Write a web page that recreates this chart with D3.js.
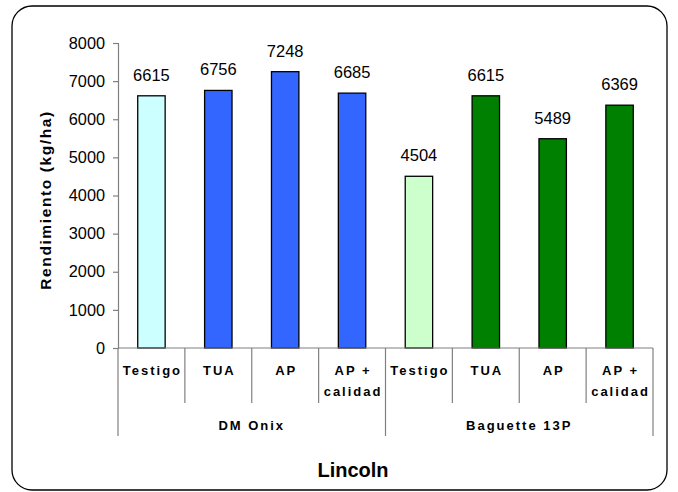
<!DOCTYPE html>
<html>
<head>
<meta charset="utf-8">
<script src="https://cdn.jsdelivr.net/npm/d3@7/dist/d3.min.js"></script>
<style>
  html, body { margin: 0; padding: 0; background: #fff; }
  svg { display: block; }
  text { font-family: Arial, "Liberation Sans", sans-serif; }
</style>
</head>
<body>
<svg id="chart" width="678" height="492"></svg>
<script>
// ---- data ----
const groups = ["DM Onix", "Baguette 13P"];
const treatments = ["Testigo", "TUA", "AP", "AP + calidad"];
const valuesDMOnix = [6615, 6756, 7248, 6685];
const valuesBaguette = [4504, 6615, 5489, 6369];
const yTicks = [0, 1000, 2000, 3000, 4000, 5000, 6000, 7000, 8000];
const colorsDMOnix = ["#CCFFFF", "#3366FF", "#3366FF", "#3366FF"];
const colorsBaguette = ["#CCFFCC", "#008000", "#008000", "#008000"];
const yTitle = "Rendimiento (kg/ha)";
const xTitle = "Lincoln";

(function () {
// build table
const rows = [];
[valuesDMOnix, valuesBaguette].forEach((vals, gi) => {
  vals.forEach((v, ti) => {
    rows.push({
      key: groups[gi] + "|" + treatments[ti],
      group: groups[gi],
      treatment: treatments[ti],
      value: v,
      color: (gi === 0 ? colorsDMOnix : colorsBaguette)[ti]
    });
  });
});

const svg = d3.select("#chart");

// frame
svg.append("rect")
  .attr("x", 12).attr("y", 6)
  .attr("width", 655).attr("height", 484)
  .attr("rx", 20).attr("ry", 20)
  .attr("fill", "#fff").attr("stroke", "#000").attr("stroke-width", 1.3);

const pLeft = 118, pRight = 653, pTop = 43, pBottom = 348;

const x = d3.scaleBand().domain(rows.map(d => d.key)).range([pLeft, pRight]).padding(0);
const y = d3.scaleLinear().domain([0, 8000]).range([pBottom, pTop]);

const axisColor = "#808080";

// y axis
const yAxis = d3.axisLeft(y).tickValues(yTicks).tickSize(5).tickPadding(8).tickFormat(d3.format("d"));
const gy = svg.append("g").attr("transform", `translate(${pLeft},0)`).call(yAxis);
gy.select(".domain").attr("stroke", axisColor).attr("stroke-width", 1.2);
gy.selectAll(".tick line").attr("stroke", axisColor).attr("stroke-width", 1.2);
gy.selectAll(".tick text")
  .attr("fill", "#000")
  .style("font-size", "16.3px")
  .style("font-family", "Arial, 'Liberation Sans', sans-serif");

// bars
const barW = x.bandwidth() * 0.41;
svg.append("g").selectAll("rect").data(rows).join("rect")
  .attr("x", d => x(d.key) + (x.bandwidth() - barW) / 2)
  .attr("y", d => y(d.value))
  .attr("width", barW)
  .attr("height", d => y(0) - y(d.value))
  .attr("fill", d => d.color)
  .attr("stroke", "#000")
  .attr("stroke-width", 1.3);

// value labels
svg.append("g").selectAll("text").data(rows).join("text")
  .attr("x", d => x(d.key) + x.bandwidth() / 2)
  .attr("y", d => y(d.value) - 15)
  .attr("text-anchor", "middle")
  .style("font-size", "16.5px")
  .attr("fill", "#000")
  .text(d => d.value);

// x baseline
svg.append("line")
  .attr("x1", pLeft).attr("x2", pRight)
  .attr("y1", y(0)).attr("y2", y(0))
  .attr("stroke", axisColor).attr("stroke-width", 1.2);

// category dividers
const nCat = rows.length;
for (let i = 0; i <= nCat; i++) {
  const xx = i < nCat ? x(rows[i].key) : pRight;
  const isGroupEdge = (i % treatments.length === 0);
  svg.append("line")
    .attr("x1", xx).attr("x2", xx)
    .attr("y1", y(0)).attr("y2", isGroupEdge ? 436 : 403)
    .attr("stroke", axisColor).attr("stroke-width", 1.2);
}

// category labels
const catG = svg.append("g");
rows.forEach(d => {
  const cx = x(d.key) + x.bandwidth() / 2;
  const parts = d.treatment === "AP + calidad" ? ["AP +", "calidad"] : [d.treatment];
  parts.forEach((p, i) => {
    catG.append("text")
      .attr("x", cx + 1)
      .attr("y", 375 + i * 21)
      .attr("text-anchor", "middle")
      .style("font-size", "13px")
      .style("font-weight", "bold")
      .style("letter-spacing", "2px")
      .attr("fill", "#000")
      .text(p);
  });
});

// group labels
groups.forEach((g, gi) => {
  const first = rows[gi * treatments.length];
  const last = rows[gi * treatments.length + treatments.length - 1];
  const cx = (x(first.key) + x(last.key) + x.bandwidth()) / 2;
  svg.append("text")
    .attr("x", cx)
    .attr("y", 430)
    .attr("text-anchor", "middle")
    .style("font-size", "13px")
    .style("font-weight", "bold")
    .style("letter-spacing", "2px")
    .attr("fill", "#000")
    .text(g);
});

// axis titles
svg.append("text")
  .attr("transform", "translate(51,200) rotate(-90)")
  .attr("text-anchor", "middle")
  .style("font-size", "15.5px")
  .style("font-weight", "bold")
  .style("letter-spacing", "1.6px")
  .attr("fill", "#000")
  .text(yTitle);

svg.append("text")
  .attr("x", 353)
  .attr("y", 477)
  .attr("text-anchor", "middle")
  .style("font-size", "20px")
  .style("font-weight", "bold")
  .attr("fill", "#000")
  .text(xTitle);
})();
</script>
</body>
</html>
